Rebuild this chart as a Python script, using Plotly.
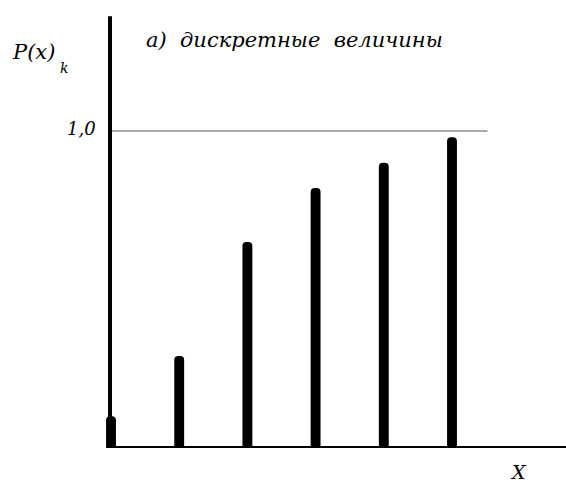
import plotly.graph_objects as go

# Discrete values and their cumulative probabilities P(x)_k
x_vals = [0, 1, 2, 3, 4, 5]
p_vals = [0.10, 0.29, 0.65, 0.82, 0.90, 0.98]

W, H = 566, 482
ML, MR, MT, MB = 95, 0, 15, 34
step = 68.2                      # pixels per unit on x
x0 = -(111 - ML) / step          # x=0 sits just right of the vertical axis
x1 = x0 + (W - ML - MR) / step
y1 = (H - MB - MT) / 317.0       # 317 px per probability unit
x_axis = -1.0 / step             # vertical axis position

serif = "DejaVu Serif"

fig = go.Figure()
fig.add_trace(go.Bar(
    x=x_vals, y=p_vals, width=0.145,
    marker=dict(color="black", line=dict(width=0)),
    hoverinfo="skip",
))

shapes = [
    # level 1,0
    dict(type="line", xref="x", yref="y", x0=x_axis, x1=5.52, y0=1.0, y1=1.0,
         line=dict(color="#555555", width=1)),
    # vertical axis
    dict(type="line", xref="x", yref="y", x0=x_axis, x1=x_axis, y0=-0.004, y1=y1 - 0.004,
         line=dict(color="black", width=4)),
    # horizontal axis
    dict(type="line", xref="x", yref="y", x0=x_axis - 0.03, x1=x1, y0=0, y1=0,
         line=dict(color="black", width=4)),
]

def px(xp):
    return (xp - ML) / (W - ML - MR)

def py(yp):
    return (H - MB - yp) / (H - MB - MT)

annotations = [
    dict(text="P(x)", x=px(10), y=py(52), xanchor="left", yanchor="middle", size=21),
    dict(text="k", x=px(58), y=py(68), xanchor="left", yanchor="middle", size=14),
    dict(text="1,0", x=px(98), y=py(128), xanchor="right", yanchor="middle", size=18),
    dict(text="X", x=px(518), y=py(472), xanchor="center", yanchor="middle", size=19),
    dict(text="а)  дискретные  величины", x=px(144), y=py(40), xanchor="left",
         yanchor="middle", size=21),
]
for a in annotations:
    a["font"] = dict(family=serif, size=a.pop("size"), color="black", style="italic")
    a.update(xref="paper", yref="paper", showarrow=False)

fig.update_layout(
    width=W, height=H,
    margin=dict(l=ML, r=MR, t=MT, b=MB),
    paper_bgcolor="white", plot_bgcolor="white",
    showlegend=False,
    barcornerradius=5,
    xaxis=dict(range=[x0, x1], visible=False, fixedrange=True),
    yaxis=dict(range=[0, y1], visible=False, fixedrange=True),
    shapes=shapes,
    annotations=annotations,
)

fig.write_html("out.html")
